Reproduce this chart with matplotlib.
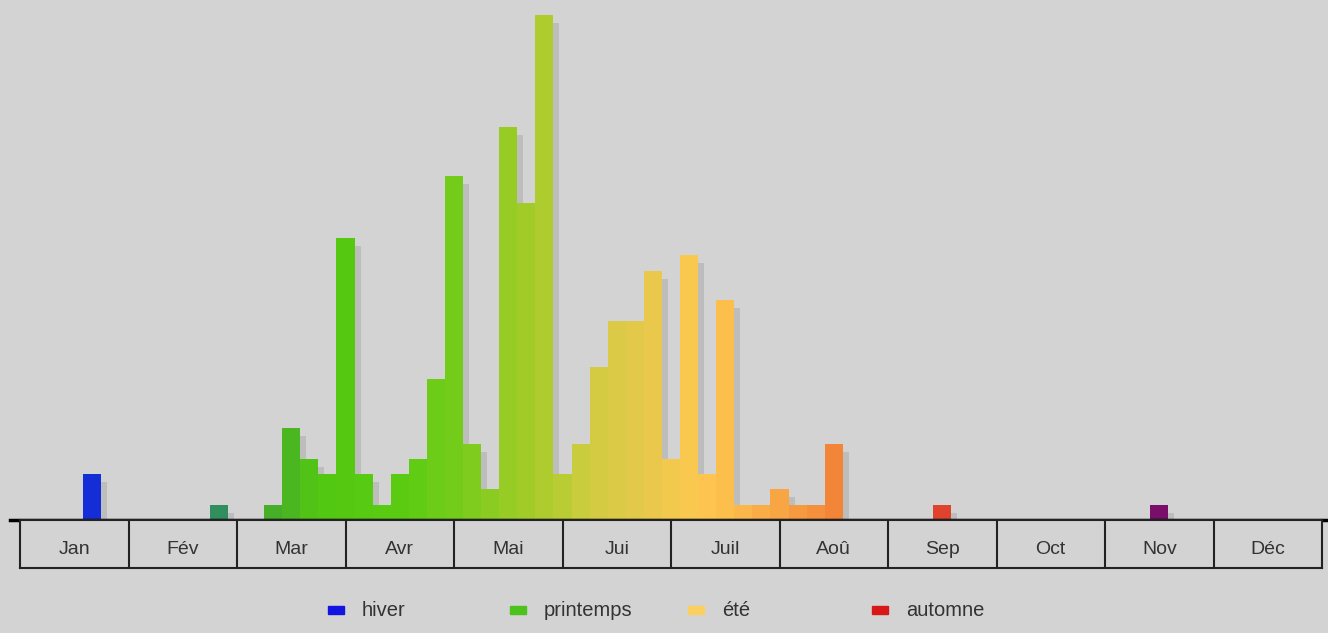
import numpy as np
import matplotlib.pyplot as plt
from matplotlib.colors import LinearSegmentedColormap
from matplotlib.patches import Rectangle

plt.rcParams['font.family'] = ['Liberation Sans', 'DejaVu Sans']

# data: one bin = 1/6 month, heights in counts
months = ['Jan', 'Fév', 'Mar', 'Avr', 'Mai', 'Jui', 'Juil', 'Aoû', 'Sep', 'Oct', 'Nov', 'Déc']
bins = [3, 10, 13, 14, 15, 16, 17, 18, 19, 20, 21, 22, 23, 24, 25, 26, 27, 28,
        29, 30, 31, 32, 33, 34, 35, 36, 37, 38, 39, 40, 41, 42, 43, 44, 50, 62]
counts = [3, 1, 1, 6, 4, 3, 18.4, 3, 1, 3, 4, 9.2, 22.5, 5, 2, 25.7, 20.7, 33,
          3, 5, 10, 13, 13, 16.3, 4, 17.3, 3, 14.4, 1, 1, 2, 1, 1, 5, 1, 1]
seasons = ['hiver', 'printemps', 'été', 'automne']
season_colors = ['#1414e0', '#4cc21c', '#fcd060', '#d81818']

# colour ramp through the year (anchor bin, colour)
ramp_bins = [0, 3, 10, 13, 16, 21, 24, 28, 31, 34, 37, 40, 44, 50, 62, 72]
ramp_cols = ['#1428dc', '#1428dc', '#2e8a68', '#44a82c', '#52c812', '#5ccc12', '#7acc1c',
             '#a8cc2a', '#d0cc40', '#e6c84a', '#fdc850', '#fbb448', '#f48c3a',
             '#e4442a', '#7a0f6a', '#7a0f6a']

W, H = 1328, 633
bg = '#d3d3d3'
px = 1302 / 72      # pixels per bin
unit = 15.3         # pixels per count
x0 = 20

cmap = LinearSegmentedColormap.from_list('year', list(zip(np.array(ramp_bins) / 72, ramp_cols)))
left = np.array(bins) + 0.5
cols = [cmap((b + 0.5) / 72) for b in bins]

fig = plt.figure(figsize=(W / 100, H / 100), dpi=100, facecolor=bg)
ax = fig.add_axes([0, (H - 520) / H, 1, 520 / H])
ax.set_xlim(-x0 / px, (W - x0) / px)
ax.set_ylim(0, 520 / unit)
ax.axis('off')

# drop shadow then bars
h = np.array(counts)
ax.bar(left + 6 / px, h - 8 / unit, width=1, align='edge', color='#bdbdbd', zorder=1)
ax.bar(left, h, width=1, align='edge', color=cols, zorder=2)
ax.axhline(0, xmin=10 / W, xmax=1, color='black', lw=2.5, zorder=3, clip_on=False)

# month boxes
axm = fig.add_axes([x0 / W, (H - 568) / H, 1302 / W, 48 / H])
axm.set_facecolor(bg)
axm.set_xlim(0, 12)
axm.set_ylim(0, 1)
axm.set_xticks([])
axm.set_yticks([])
for s in axm.spines.values():
    s.set_color('#222222')
    s.set_linewidth(1.5)
for i in range(1, 12):
    axm.axvline(i, color='#222222', lw=1.5)
for i, m in enumerate(months):
    axm.text(i + 0.5, 0.38, m, ha='center', va='center', fontsize=14, color='#333333')

# legend
leg_x = [328, 510, 688, 872]
for xs, name, c in zip(leg_x, seasons, season_colors):
    fig.add_artist(Rectangle((xs / W, (H - 614) / H), 16 / W, 8 / H,
                             transform=fig.transFigure, color=c))
    fig.text((xs + 34) / W, (H - 611) / H, name, ha='left', va='center',
             fontsize=14.5, color='#333333')

fig.savefig('out.png', dpi=100, facecolor=bg)
